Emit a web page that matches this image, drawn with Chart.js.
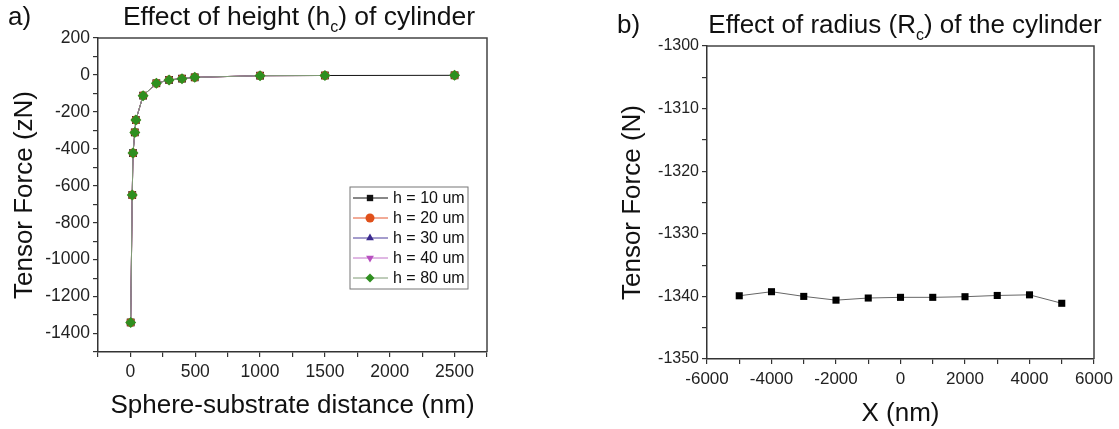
<!DOCTYPE html>
<html lang="en">
<head>
  <meta charset="UTF-8" />
  <title>Tensor force vs distance</title>
  <script src="https://cdn.jsdelivr.net/npm/chart.js"></script>
  <style>
    body { margin: 0; background: #fff; font-family: "Liberation Sans", Arial, sans-serif; }
    #wrap { position: relative; width: 1119px; height: 429px; }
    canvas { position: absolute; top: 0; }
    .txt { position: absolute; font-size: 26px; line-height: 26px; color: #111; white-space: nowrap; }
    .txt sub { font-size: 16px; line-height: 0; vertical-align: -7px; }
  </style>
</head>
<body>
  <div id="wrap">
    <canvas id="heightChart" width="560" height="429" style="left:0"></canvas>
    <canvas id="radiusChart" width="559" height="429" style="left:560px"></canvas>
    <div class="txt" style="left:8px;top:3px">a)</div>
    <div class="txt" style="left:99px;top:3px;width:400px;text-align:center;font-size:26.5px">Effect of height (h<sub>c</sub>) of cylinder</div>
    <div class="txt" style="left:617px;top:11px">b)</div>
    <div class="txt" style="left:705px;top:11px;width:400px;text-align:center">Effect of radius (R<sub>c</sub>) of the cylinder</div>
  </div>

  <script>
    // a) sphere-substrate distance (nm) vs tensor force (zN), one curve per cylinder height
    const distances = [2, 14, 20, 34, 42, 98, 200, 298, 398, 496, 1000, 1500, 2500];
    const forceH10 = [-1340, -650, -423, -311, -244, -112, -45, -27, -20, -13, -4, -3, -2];
    const forceH20 = [-1340, -650, -423, -311, -244, -112, -45, -27, -20, -13, -4, -3, -2];
    const forceH30 = [-1340, -650, -423, -311, -244, -112, -45, -27, -20, -13, -4, -3, -2];
    const forceH40 = [-1340, -650, -423, -311, -244, -112, -45, -27, -20, -13, -4, -3, -2];
    const forceH80 = [-1340, -650, -423, -311, -244, -112, -45, -27, -20, -13, -4, -3, -2];
    const heightLabels = ["h = 10 um", "h = 20 um", "h = 30 um", "h = 40 um", "h = 80 um"];

    // b) lateral position X (nm) vs tensor force (N)
    const xPositions = [-5000, -4000, -3000, -2000, -1000, 0, 1000, 2000, 3000, 4000, 5000];
    const radiusForce = [-1339.9, -1339.25, -1340.0, -1340.6, -1340.26, -1340.15, -1340.15, -1340.05, -1339.85, -1339.75, -1341.1];

    const FONT = "'Liberation Sans', Arial, sans-serif";
    const pts = (xs, ys) => xs.map((x, i) => ({ x: x, y: ys[i] }));

    // top + right border of the plot box
    const frame = {
      id: "frame",
      afterDraw(chart) {
        const { ctx, chartArea: a } = chart;
        ctx.save();
        ctx.strokeStyle = "#444";
        ctx.lineWidth = 1.5;
        ctx.beginPath();
        ctx.moveTo(a.left, a.top);
        ctx.lineTo(a.right, a.top);
        ctx.lineTo(a.right, a.bottom);
        ctx.stroke();
        ctx.restore();
      }
    };

    // boxed legend inside the plot, Origin style
    const boxLegend = {
      id: "boxLegend",
      afterDraw(chart, args, opts) {
        if (!opts.show) return;
        const ctx = chart.ctx;
        const ds = chart.data.datasets;
        ctx.save();
        ctx.strokeStyle = "#777";
        ctx.lineWidth = 1;
        ctx.strokeRect(opts.x, opts.y, opts.w, opts.h);
        ctx.font = "16px " + FONT;
        ctx.textBaseline = "middle";
        ds.forEach((d, i) => {
          const cy = opts.y + 11 + i * 20;
          ctx.strokeStyle = d.borderColor;
          ctx.lineWidth = 1;
          ctx.beginPath();
          ctx.moveTo(opts.x + 3, cy);
          ctx.lineTo(opts.x + 38, cy);
          ctx.stroke();
          ctx.fillStyle = d.pointBackgroundColor;
          ctx.strokeStyle = d.pointBackgroundColor;
          Chart.helpers.drawPoint(ctx, { pointStyle: d.pointStyle, radius: 4.5, rotation: d.pointRotation || 0, borderWidth: 0 }, opts.x + 20, cy);
          ctx.fillStyle = "#111";
          ctx.fillText(d.label, opts.x + 43, cy + 1);
        });
        ctx.restore();
      }
    };

    function axis(min, max, step, every, size, fit, horizontal, title) {
      return {
        type: "linear",
        min: min,
        max: max,
        afterFit(s) { if (horizontal) s.height = fit; else s.width = fit; },
        title: { display: true, text: title, color: "#111", font: { family: FONT, size: 26 }, padding: 0 },
        ticks: {
          stepSize: step,
          autoSkip: false,
          maxRotation: 0,
          padding: horizontal ? 5 : 3,
          color: "#222",
          font: { family: FONT, size: size },
          callback: v => (Math.round(v / every) * every === v ? v : "")
        },
        grid: { drawOnChartArea: false, drawTicks: true, tickLength: 5, color: "#333", lineWidth: 1.2 },
        border: { color: "#333", width: 1.5 }
      };
    }

    // only the 10 um curve is drawn out to 2500 nm
    const cutAfter1500 = color => ({ borderColor: c => (c.p1.parsed.x > 1500 ? "rgba(0,0,0,0)" : color) });

    const heightSeries = [
      { label: heightLabels[0], data: pts(distances, forceH10), borderColor: "#111", pointBackgroundColor: "#111", pointStyle: "rect", pointRadius: 5.5, order: 5 },
      { label: heightLabels[1], data: pts(distances, forceH20), borderColor: "#e4572e", pointBackgroundColor: "#e0501a", pointStyle: "circle", pointRadius: 4.5, order: 4, segment: cutAfter1500("#e4572e") },
      { label: heightLabels[2], data: pts(distances, forceH30), borderColor: "#4a3a9a", pointBackgroundColor: "#3b2a8f", pointStyle: "triangle", pointRadius: 4.5, order: 3, segment: cutAfter1500("#4a3a9a") },
      { label: heightLabels[3], data: pts(distances, forceH40), borderColor: "#c070c8", pointBackgroundColor: "#b84fc0", pointStyle: "triangle", pointRotation: 180, pointRadius: 4.5, order: 2, segment: cutAfter1500("#c070c8") },
      { label: heightLabels[4], data: pts(distances, forceH80), borderColor: "#7f9a74", pointBackgroundColor: "#2f8f1f", pointStyle: "rectRot", pointRadius: 5.5, order: 1, segment: cutAfter1500("#7f9a74") }
    ].map(d => Object.assign({ borderWidth: 1, pointBorderWidth: 0, pointBorderColor: d.pointBackgroundColor, pointRotation: d.pointRotation || 0, tension: 0 }, d));

    new Chart(document.getElementById("heightChart"), {
      type: "line",
      data: { datasets: heightSeries },
      options: {
        responsive: false,
        animation: false,
        devicePixelRatio: 1,
        layout: { padding: { left: 9, top: 38, right: 73, bottom: 8 } },
        scales: {
          x: axis(-250, 2750, 250, 500, 17.5, 69, true, "Sphere-substrate distance (nm)"),
          y: axis(-1500, 200, 100, 200, 17.5, 89, false, "Tensor Force (zN)")
        },
        plugins: {
          legend: { display: false },
          tooltip: { enabled: false },
          boxLegend: { show: true, x: 350, y: 187, w: 118, h: 102 }
        }
      },
      plugins: [frame, boxLegend]
    });

    new Chart(document.getElementById("radiusChart"), {
      type: "line",
      data: {
        datasets: [{
          label: "Tensor Force",
          data: pts(xPositions, radiusForce),
          borderColor: "#666",
          borderWidth: 1,
          pointStyle: "rect",
          pointRadius: 5,
          pointBackgroundColor: "#000",
          pointBorderWidth: 0,
          tension: 0
        }]
      },
      options: {
        responsive: false,
        animation: false,
        devicePixelRatio: 1,
        layout: { padding: { left: 57, top: 46, right: 25, bottom: 0 } },
        scales: {
          x: axis(-6000, 6000, 1000, 2000, 17, 70, true, "X (nm)"),
          y: axis(-1350, -1300, 5, 10, 16, 90, false, "Tensor Force (N)")
        },
        plugins: {
          legend: { display: false },
          tooltip: { enabled: false },
          boxLegend: { show: false }
        }
      },
      plugins: [frame, boxLegend]
    });
  </script>
</body>
</html>
